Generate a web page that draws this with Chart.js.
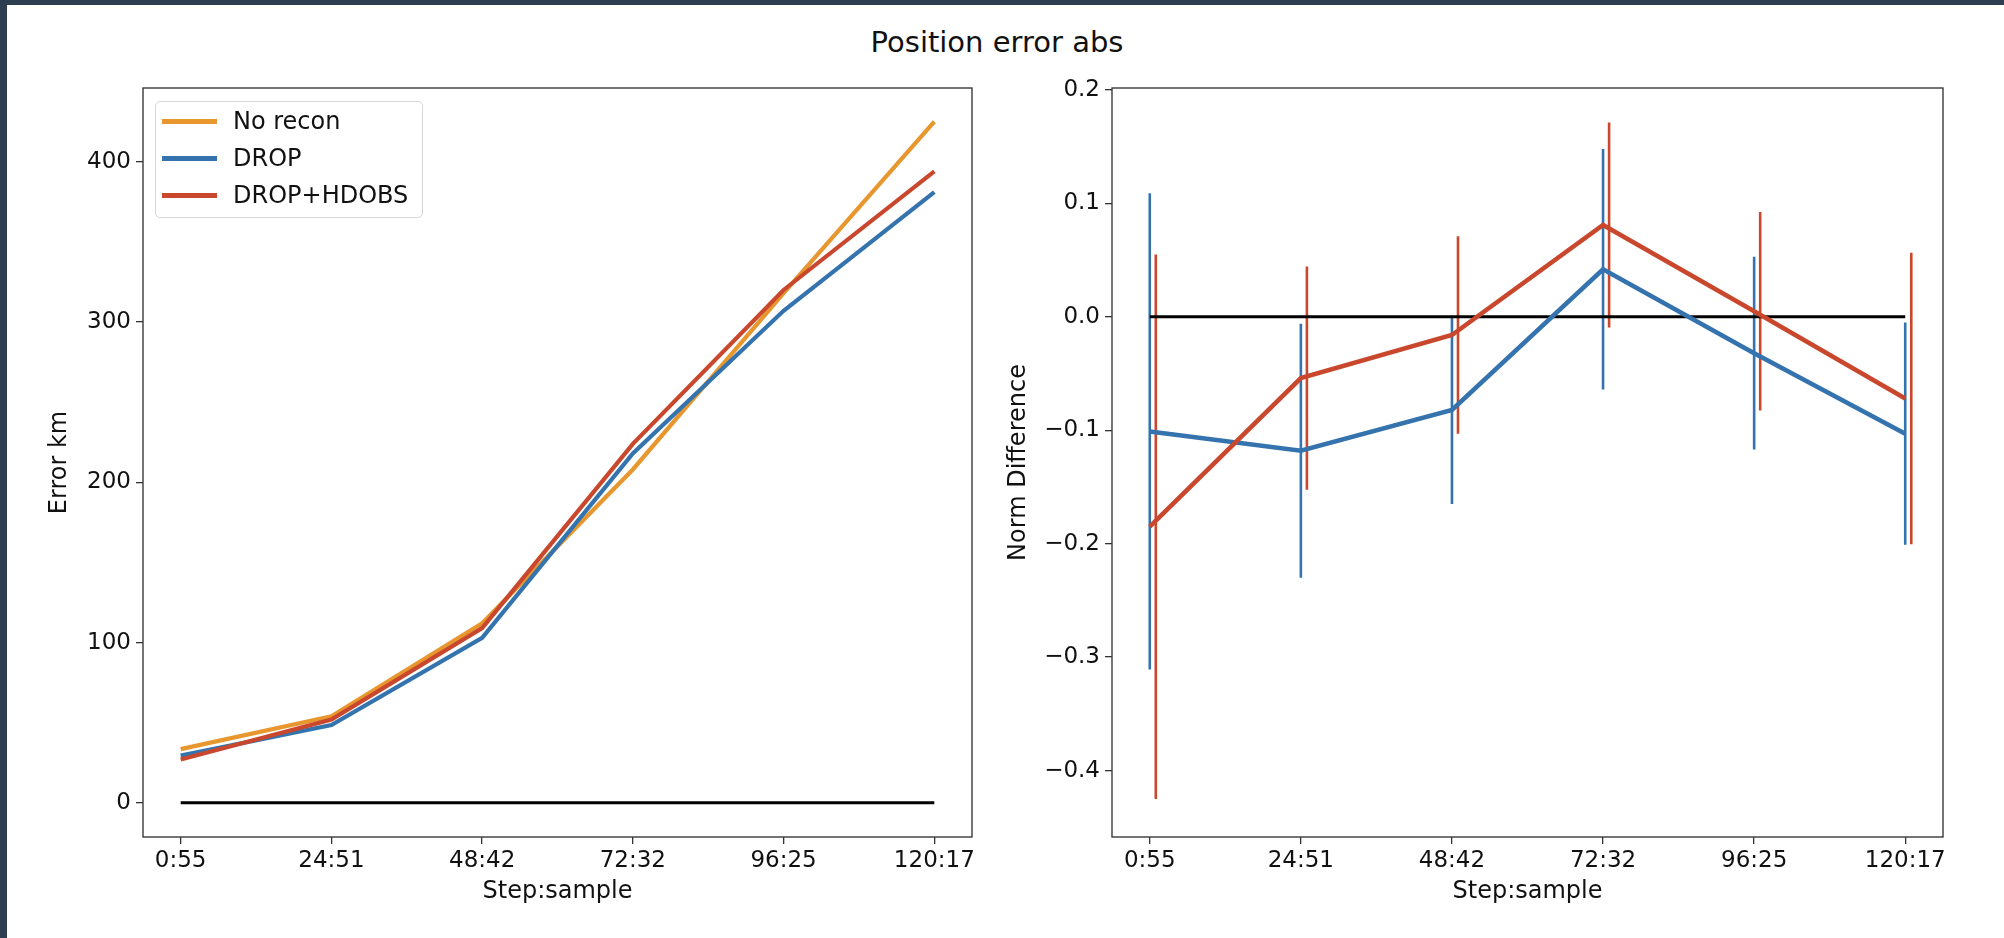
<!DOCTYPE html>
<html>
<head>
<meta charset="utf-8">
<script src="https://cdn.jsdelivr.net/npm/chart.js@4.4.1/dist/chart.umd.min.js"></script>
<style>
  html, body { margin: 0; padding: 0; background: #2c3e50; }
  #page { position: relative; width: 2004px; height: 938px; background: #2c3e50; overflow: hidden; font-family: "DejaVu Sans", sans-serif; }
  #paper { position: absolute; left: 7px; top: 5px; right: 0; bottom: 0; background: #ffffff; }
  #title { position: absolute; left: 0; width: 1994px; top: 26px; text-align: center; font-size: 29px; line-height: 32px; color: #111; }
  #c1 { position: absolute; left: 0; top: 0; }
  #c2 { position: absolute; left: 1000px; top: 0; }
  #legend { position: absolute; left: 155px; top: 101px; width: 268px; height: 117px; border: 1.5px solid #d6d6d6; border-radius: 5px; background: rgba(255,255,255,0.85); box-sizing: border-box; }
  .row { position: absolute; left: 0; height: 30px; width: 100%; }
  .swatch { position: absolute; left: 6px; top: 12.5px; width: 55px; height: 5px; }
  .lbl { position: absolute; left: 77px; top: 0; font-size: 24px; line-height: 30px; color: #111; white-space: nowrap; }
</style>
</head>
<body>
<div id="page">
  <div id="paper"></div>
  <div id="title">Position error abs</div>
  <canvas id="c1" width="1000" height="938"></canvas>
  <canvas id="c2" width="1004" height="938"></canvas>
  <div id="legend"></div>
</div>
<script>
// ---------- data ----------
const categories = ['0:55', '24:51', '48:42', '72:32', '96:25', '120:17'];
const seriesNames = ['No recon', 'DROP', 'DROP+HDOBS'];
const seriesColors = ['#e8972f', '#3473ad', '#c9482d'];

// left panel: absolute position error (km)
const errNoRecon   = [33.5, 54, 112, 208, 318, 425];
const errDrop      = [29.5, 48.5, 103, 218, 307, 381];
const errDropHdobs = [27, 52, 109, 224, 320, 394];
const errorTicks   = [0, 100, 200, 300, 400];

// right panel: normalised difference with error bars
const diffDrop      = [-0.101, -0.118, -0.082, 0.042, -0.032, -0.103];
const diffDropErr   = [0.210, 0.112, 0.083, 0.106, 0.085, 0.098];
const diffHdobs     = [-0.185, -0.054, -0.016, 0.081, 0.005, -0.072];
const diffHdobsErr  = [0.240, 0.0985, 0.087, 0.0903, 0.0875, 0.1285];
const diffTicks     = [-0.4, -0.3, -0.2, -0.1, 0.0, 0.1, 0.2];
const zeroLine      = [0, 0, 0, 0, 0, 0];

// ---------- helpers ----------
const TICKFONT = { family: '"DejaVu Sans", sans-serif', size: 23 };
const LABELFONT = { family: '"DejaVu Sans", sans-serif', size: 24 };
const TEXT = '#111';
const pts = (arr, off) => arr.map((v, i) => ({ x: i + (off || 0), y: v }));
const errSegments = (mean, err, off) => {
  const out = [];
  mean.forEach((m, i) => {
    out.push({ x: i + off, y: m - err[i] });
    out.push({ x: i + off, y: m + err[i] });
    out.push({ x: i + off, y: null });
  });
  return out;
};

const frame = {
  id: 'frame',
  afterDatasetsDraw(chart) {
    const a = chart.chartArea, ctx = chart.ctx;
    ctx.save();
    ctx.strokeStyle = '#3a3a3a';
    ctx.lineWidth = 1.4;
    ctx.strokeRect(a.left, a.top, a.right - a.left, a.bottom - a.top);
    ctx.restore();
  }
};

function xScale(pb) {
  return {
    type: 'linear', min: -0.25, max: 5.25,
    afterBuildTicks: s => { s.ticks = categories.map((_, i) => ({ value: i })); },
    afterFit: s => { s.height = 101; },
    grid: { drawOnChartArea: false, drawTicks: true, tickLength: 7, tickColor: '#333', lineWidth: 1.3 },
    border: { display: false },
    ticks: { autoSkip: false, maxRotation: 0, padding: 3, color: TEXT, font: TICKFONT,
             callback: v => categories[v] },
    title: { display: true, text: 'Step:sample', color: TEXT, font: LABELFONT, padding: { top: 0, bottom: pb } }
  };
}
function yScale(min, max, tickVals, width, label, pt, fmt) {
  return {
    type: 'linear', min: min, max: max,
    afterBuildTicks: s => { s.ticks = tickVals.map(v => ({ value: v })); },
    afterFit: s => { s.width = width; },
    grid: { drawOnChartArea: false, drawTicks: true, tickLength: 7, tickColor: '#333', lineWidth: 1.3 },
    border: { display: false },
    ticks: { autoSkip: false, padding: 5, color: TEXT, font: TICKFONT, callback: fmt },
    title: { display: true, text: label, color: TEXT, font: LABELFONT, padding: { top: pt, bottom: 0 } }
  };
}
const common = {
  responsive: false, animation: false, devicePixelRatio: 1,
  plugins: { legend: { display: false }, tooltip: { enabled: false } },
  elements: { point: { radius: 0 }, line: { tension: 0, borderCapStyle: 'butt' } }
};

// ---------- left chart ----------
new Chart(document.getElementById('c1'), {
  type: 'line',
  data: {
    datasets: [
      { label: seriesNames[0], data: pts(errNoRecon), borderColor: seriesColors[0], borderWidth: 4.2, order: 3 },
      { label: seriesNames[1], data: pts(errDrop), borderColor: seriesColors[1], borderWidth: 4.2, order: 2 },
      { label: seriesNames[2], data: pts(errDropHdobs), borderColor: seriesColors[2], borderWidth: 4.2, order: 1 },
      { label: 'zero', data: pts(zeroLine), borderColor: '#000', borderWidth: 3, order: 4 }
    ]
  },
  options: Object.assign({}, common, {
    layout: { padding: { left: 0, top: 88, right: 28, bottom: 0 } },
    scales: {
      x: xScale(32),
      y: yScale(-21.3, 446, errorTicks, 143, 'Error km', 45, v => String(v))
    }
  }),
  plugins: [frame]
});

// ---------- right chart ----------
const fmtDiff = v => (v < -1e-9 ? '\u2212' + Math.abs(v).toFixed(1) : Math.abs(v).toFixed(1));
new Chart(document.getElementById('c2'), {
  type: 'line',
  data: {
    datasets: [
      { label: 'zero', data: pts(zeroLine), borderColor: '#000', borderWidth: 3, order: 3 },
      { label: seriesNames[1] + ' err', data: errSegments(diffDrop, diffDropErr, 0), borderColor: seriesColors[1], borderWidth: 2.6, spanGaps: false, order: 5 },
      { label: seriesNames[2] + ' err', data: errSegments(diffHdobs, diffHdobsErr, 0.04), borderColor: seriesColors[2], borderWidth: 2.6, spanGaps: false, order: 4 },
      { label: seriesNames[1], data: pts(diffDrop), borderColor: seriesColors[1], borderWidth: 4.6, order: 2 },
      { label: seriesNames[2], data: pts(diffHdobs), borderColor: seriesColors[2], borderWidth: 4.6, order: 1 }
    ]
  },
  options: Object.assign({}, common, {
    layout: { padding: { left: 0, top: 88, right: 61, bottom: 0 } },
    scales: {
      x: xScale(32),
      y: yScale(-0.4586, 0.2018, diffTicks, 112, 'Norm Difference', 4, fmtDiff)
    }
  }),
  plugins: [frame]
});

// ---------- legend (HTML, from the series arrays) ----------
const leg = document.getElementById('legend');
const rowTops = [4, 41, 78];
seriesNames.forEach((name, i) => {
  const r = document.createElement('div');
  r.className = 'row';
  r.style.top = rowTops[i] + 'px';
  const s = document.createElement('div');
  s.className = 'swatch';
  s.style.background = seriesColors[i];
  const t = document.createElement('div');
  t.className = 'lbl';
  t.textContent = name;
  r.appendChild(s); r.appendChild(t);
  leg.appendChild(r);
});
</script>
</body>
</html>
